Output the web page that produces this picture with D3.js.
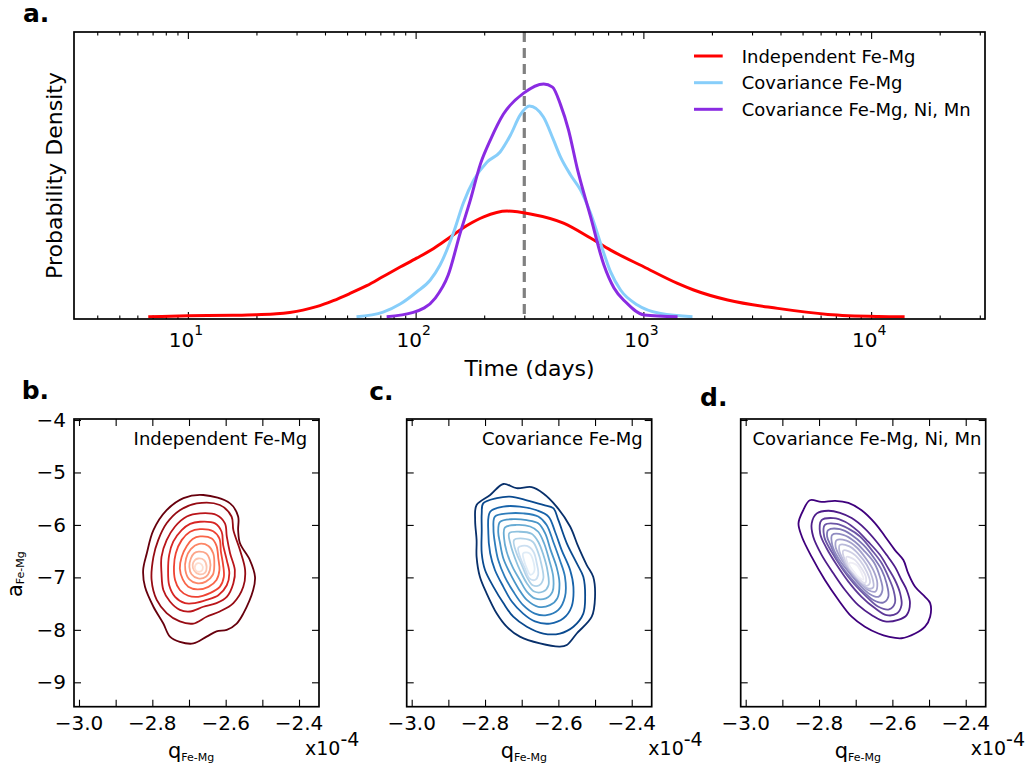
<!DOCTYPE html>
<html><head><meta charset="utf-8">
<script src="https://cdn.jsdelivr.net/npm/d3@7"></script>
<style>body{margin:0;background:#fff} text{font-family:"DejaVu Sans",sans-serif;fill:#000}</style>
</head><body><svg id="c" width="1030" height="772"></svg>
<script>
// ---------- DATA ----------
const seriesNames = ["Independent Fe-Mg", "Covariance Fe-Mg", "Covariance Fe-Mg, Ni, Mn"];
const seriesColors = ["#ff0000", "#87cefa", "#8a2be2"];

const indepDays = [6.7, 10, 15.8, 20, 24.5, 28, 32, 36.7, 43.5, 51.5, 61, 72, 85.5, 101, 120, 137, 168, 199, 252, 319, 446, 586, 718, 1003, 1413, 1663, 2344, 3890, 6457, 10715, 14030];
const indepDensity = [0.008, 0.011, 0.013, 0.015, 0.018, 0.023, 0.031, 0.043, 0.064, 0.089, 0.116, 0.148, 0.181, 0.212, 0.246, 0.277, 0.326, 0.356, 0.376, 0.366, 0.334, 0.282, 0.240, 0.182, 0.124, 0.101, 0.066, 0.037, 0.016, 0.009, 0.008];

const covDays = [55, 72, 85.5, 101, 116, 128, 147, 162, 180, 206, 235, 261, 288, 316, 364, 403, 433, 479, 530, 586, 668, 718, 794, 942, 1191, 1643];
const covDensity = [0.008, 0.024, 0.052, 0.094, 0.136, 0.188, 0.303, 0.404, 0.484, 0.547, 0.582, 0.641, 0.711, 0.742, 0.704, 0.624, 0.564, 0.502, 0.449, 0.369, 0.233, 0.164, 0.101, 0.049, 0.019, 0.008];

const covAllDays = [74.6, 97.7, 122, 139, 157, 174, 192, 213, 243, 298, 365, 399, 433, 469, 512, 587, 671, 743, 836, 1007, 1413];
const covAllDensity = [0.008, 0.023, 0.073, 0.153, 0.300, 0.415, 0.537, 0.624, 0.714, 0.787, 0.819, 0.808, 0.746, 0.659, 0.526, 0.355, 0.188, 0.108, 0.059, 0.014, 0.008];

const referenceDays = 300;
const timeMajorTicks = [10, 100, 1000, 10000];
const timeTickExponents = ["1", "2", "3", "4"];

const qTicks = [-3.0, -2.9, -2.8, -2.7, -2.6, -2.5, -2.4];
const qTickLabels = ["\u22123.0", "", "\u22122.8", "", "\u22122.6", "", "\u22122.4"];
const aTicks = [-4, -5, -6, -7, -8, -9];
const aTickLabels = ["\u22124", "\u22125", "\u22126", "\u22127", "\u22128", "\u22129"];

// contour rings (outer -> inner), points are [q (x1e-4), a]
const ringsIndependent = [
 [[-2.661,-5.43],[-2.588,-5.59],[-2.566,-5.84],[-2.566,-6.10],[-2.561,-6.35],[-2.534,-6.67],[-2.520,-6.99],[-2.525,-7.24],[-2.552,-7.69],[-2.570,-7.88],[-2.597,-8.00],[-2.625,-8.03],[-2.652,-8.13],[-2.688,-8.26],[-2.725,-8.23],[-2.752,-8.13],[-2.770,-7.88],[-2.797,-7.56],[-2.820,-7.18],[-2.825,-6.86],[-2.815,-6.54],[-2.797,-6.10],[-2.761,-5.72],[-2.715,-5.49]],
 [[-2.679,-5.59],[-2.616,-5.62],[-2.584,-5.84],[-2.579,-6.10],[-2.561,-6.48],[-2.547,-6.86],[-2.552,-7.18],[-2.579,-7.49],[-2.616,-7.65],[-2.652,-7.75],[-2.688,-7.88],[-2.725,-7.84],[-2.761,-7.68],[-2.788,-7.43],[-2.802,-7.05],[-2.797,-6.61],[-2.784,-6.29],[-2.761,-5.97],[-2.725,-5.72]],
 [[-2.670,-5.78],[-2.625,-5.81],[-2.602,-5.97],[-2.597,-6.22],[-2.588,-6.54],[-2.575,-6.86],[-2.579,-7.11],[-2.597,-7.37],[-2.625,-7.49],[-2.661,-7.56],[-2.697,-7.65],[-2.725,-7.62],[-2.752,-7.46],[-2.770,-7.24],[-2.775,-6.92],[-2.775,-6.61],[-2.761,-6.29],[-2.738,-6.03],[-2.706,-5.84]],
 [[-2.670,-5.94],[-2.629,-5.97],[-2.611,-6.13],[-2.607,-6.38],[-2.597,-6.67],[-2.590,-6.92],[-2.597,-7.15],[-2.620,-7.34],[-2.652,-7.43],[-2.684,-7.49],[-2.711,-7.49],[-2.738,-7.37],[-2.754,-7.15],[-2.757,-6.86],[-2.754,-6.57],[-2.743,-6.32],[-2.720,-6.10],[-2.697,-5.98]],
 [[-2.670,-6.08],[-2.634,-6.12],[-2.617,-6.26],[-2.613,-6.51],[-2.607,-6.76],[-2.605,-6.99],[-2.616,-7.18],[-2.643,-7.30],[-2.675,-7.37],[-2.702,-7.35],[-2.725,-7.24],[-2.738,-7.05],[-2.741,-6.80],[-2.736,-6.54],[-2.720,-6.29],[-2.697,-6.13]],
 [[-2.670,-6.22],[-2.638,-6.26],[-2.625,-6.40],[-2.620,-6.64],[-2.617,-6.86],[-2.625,-7.05],[-2.647,-7.18],[-2.677,-7.23],[-2.702,-7.18],[-2.717,-7.04],[-2.725,-6.83],[-2.720,-6.61],[-2.706,-6.40],[-2.690,-6.27]],
 [[-2.672,-6.36],[-2.647,-6.40],[-2.634,-6.54],[-2.631,-6.76],[-2.635,-6.95],[-2.654,-7.08],[-2.679,-7.11],[-2.699,-7.04],[-2.710,-6.86],[-2.708,-6.64],[-2.695,-6.46]],
 [[-2.674,-6.51],[-2.654,-6.54],[-2.643,-6.68],[-2.643,-6.86],[-2.654,-6.99],[-2.675,-7.02],[-2.693,-6.94],[-2.699,-6.80],[-2.695,-6.64],[-2.686,-6.54]],
 [[-2.675,-6.64],[-2.659,-6.67],[-2.652,-6.80],[-2.656,-6.91],[-2.673,-6.94],[-2.686,-6.87],[-2.690,-6.76],[-2.684,-6.67]],
 [[-2.676,-6.73],[-2.665,-6.76],[-2.663,-6.85],[-2.670,-6.89],[-2.681,-6.87],[-2.684,-6.80]]
];

const ringsCovariance = [
 [[-2.823,-5.62],[-2.786,-5.43],[-2.750,-5.22],[-2.714,-5.30],[-2.673,-5.28],[-2.641,-5.40],[-2.605,-5.65],[-2.568,-6.03],[-2.546,-6.41],[-2.523,-6.76],[-2.505,-6.99],[-2.500,-7.37],[-2.509,-7.75],[-2.550,-8.07],[-2.577,-8.29],[-2.596,-8.32],[-2.650,-8.26],[-2.705,-8.13],[-2.741,-7.94],[-2.768,-7.69],[-2.796,-7.30],[-2.814,-6.99],[-2.823,-6.61],[-2.823,-6.29],[-2.827,-5.91]],
 [[-2.805,-5.59],[-2.768,-5.49],[-2.732,-5.46],[-2.686,-5.53],[-2.641,-5.62],[-2.614,-5.68],[-2.600,-5.91],[-2.577,-6.35],[-2.550,-6.73],[-2.532,-6.99],[-2.527,-7.37],[-2.532,-7.69],[-2.559,-7.94],[-2.596,-8.07],[-2.641,-8.07],[-2.686,-7.94],[-2.723,-7.75],[-2.750,-7.49],[-2.777,-7.18],[-2.800,-6.86],[-2.809,-6.54],[-2.809,-6.10],[-2.809,-5.78]],
 [[-2.786,-5.75],[-2.750,-5.65],[-2.705,-5.65],[-2.659,-5.72],[-2.627,-5.84],[-2.609,-6.13],[-2.591,-6.48],[-2.568,-6.86],[-2.559,-7.18],[-2.564,-7.56],[-2.586,-7.78],[-2.623,-7.88],[-2.664,-7.84],[-2.696,-7.69],[-2.727,-7.46],[-2.750,-7.18],[-2.773,-6.86],[-2.786,-6.54],[-2.791,-6.16]],
 [[-2.773,-5.84],[-2.736,-5.78],[-2.696,-5.78],[-2.655,-5.84],[-2.632,-6.00],[-2.614,-6.32],[-2.596,-6.67],[-2.582,-6.99],[-2.582,-7.37],[-2.600,-7.62],[-2.632,-7.72],[-2.664,-7.69],[-2.696,-7.53],[-2.723,-7.27],[-2.746,-6.99],[-2.764,-6.67],[-2.773,-6.35],[-2.777,-6.07]],
 [[-2.759,-5.94],[-2.723,-5.89],[-2.686,-5.91],[-2.655,-5.97],[-2.636,-6.16],[-2.621,-6.48],[-2.605,-6.80],[-2.597,-7.11],[-2.603,-7.40],[-2.623,-7.53],[-2.655,-7.56],[-2.686,-7.43],[-2.709,-7.21],[-2.732,-6.92],[-2.750,-6.64],[-2.759,-6.35],[-2.764,-6.13]],
 [[-2.746,-6.05],[-2.714,-6.00],[-2.677,-6.03],[-2.655,-6.13],[-2.639,-6.35],[-2.625,-6.67],[-2.614,-6.99],[-2.616,-7.27],[-2.634,-7.40],[-2.664,-7.40],[-2.686,-7.27],[-2.705,-7.05],[-2.725,-6.80],[-2.741,-6.51],[-2.748,-6.26]],
 [[-2.734,-6.16],[-2.705,-6.13],[-2.673,-6.17],[-2.655,-6.32],[-2.641,-6.57],[-2.630,-6.86],[-2.627,-7.15],[-2.641,-7.27],[-2.666,-7.27],[-2.686,-7.11],[-2.703,-6.89],[-2.718,-6.64],[-2.730,-6.38]],
 [[-2.721,-6.29],[-2.696,-6.26],[-2.670,-6.32],[-2.656,-6.51],[-2.646,-6.76],[-2.641,-7.02],[-2.652,-7.15],[-2.670,-7.15],[-2.686,-6.99],[-2.700,-6.76],[-2.714,-6.54]],
 [[-2.709,-6.43],[-2.686,-6.40],[-2.668,-6.51],[-2.659,-6.73],[-2.655,-6.95],[-2.664,-7.05],[-2.679,-7.02],[-2.691,-6.83],[-2.703,-6.64]],
 [[-2.696,-6.54],[-2.679,-6.54],[-2.668,-6.70],[-2.666,-6.89],[-2.676,-6.95],[-2.686,-6.83],[-2.694,-6.67]]
];

const ringsCovarianceAll = [
 [[-2.825,-5.53],[-2.793,-5.56],[-2.756,-5.54],[-2.720,-5.58],[-2.684,-5.72],[-2.647,-5.97],[-2.620,-6.22],[-2.593,-6.48],[-2.570,-6.67],[-2.557,-6.92],[-2.538,-7.18],[-2.511,-7.37],[-2.497,-7.49],[-2.497,-7.75],[-2.511,-7.94],[-2.538,-8.07],[-2.575,-8.16],[-2.611,-8.13],[-2.638,-8.07],[-2.675,-7.94],[-2.711,-7.75],[-2.747,-7.43],[-2.784,-7.05],[-2.820,-6.61],[-2.847,-6.22],[-2.856,-5.97],[-2.843,-5.72]],
 [[-2.806,-5.78],[-2.775,-5.73],[-2.743,-5.77],[-2.711,-5.87],[-2.675,-6.07],[-2.643,-6.32],[-2.616,-6.57],[-2.593,-6.80],[-2.575,-7.05],[-2.561,-7.24],[-2.552,-7.49],[-2.561,-7.72],[-2.584,-7.81],[-2.620,-7.84],[-2.656,-7.72],[-2.693,-7.53],[-2.729,-7.24],[-2.761,-6.92],[-2.793,-6.57],[-2.816,-6.22],[-2.820,-5.97]],
 [[-2.793,-5.91],[-2.761,-5.87],[-2.729,-5.94],[-2.697,-6.10],[-2.666,-6.32],[-2.634,-6.57],[-2.611,-6.83],[-2.593,-7.05],[-2.579,-7.30],[-2.575,-7.53],[-2.588,-7.69],[-2.616,-7.72],[-2.647,-7.59],[-2.684,-7.37],[-2.720,-7.08],[-2.752,-6.76],[-2.779,-6.45],[-2.797,-6.16]],
 [[-2.784,-6.00],[-2.752,-5.98],[-2.720,-6.07],[-2.688,-6.22],[-2.656,-6.48],[-2.629,-6.73],[-2.611,-6.99],[-2.597,-7.24],[-2.593,-7.49],[-2.609,-7.61],[-2.638,-7.56],[-2.670,-7.37],[-2.706,-7.11],[-2.737,-6.83],[-2.766,-6.51],[-2.786,-6.22]],
 [[-2.775,-6.10],[-2.743,-6.08],[-2.711,-6.19],[-2.679,-6.38],[-2.652,-6.61],[-2.629,-6.86],[-2.616,-7.11],[-2.611,-7.37],[-2.625,-7.48],[-2.652,-7.43],[-2.684,-7.24],[-2.716,-6.99],[-2.747,-6.70],[-2.767,-6.41],[-2.778,-6.22]],
 [[-2.764,-6.19],[-2.734,-6.19],[-2.702,-6.32],[-2.675,-6.51],[-2.649,-6.73],[-2.634,-6.99],[-2.627,-7.24],[-2.638,-7.37],[-2.661,-7.32],[-2.688,-7.15],[-2.720,-6.89],[-2.747,-6.64],[-2.764,-6.38]],
 [[-2.752,-6.29],[-2.725,-6.30],[-2.697,-6.43],[-2.672,-6.64],[-2.652,-6.86],[-2.641,-7.11],[-2.646,-7.27],[-2.666,-7.24],[-2.691,-7.08],[-2.718,-6.86],[-2.743,-6.61],[-2.755,-6.41]],
 [[-2.743,-6.38],[-2.717,-6.41],[-2.693,-6.55],[-2.670,-6.76],[-2.655,-7.00],[-2.652,-7.19],[-2.667,-7.21],[-2.691,-7.06],[-2.716,-6.86],[-2.736,-6.64],[-2.745,-6.48]],
 [[-2.734,-6.49],[-2.711,-6.53],[-2.688,-6.68],[-2.670,-6.89],[-2.661,-7.10],[-2.670,-7.16],[-2.688,-7.06],[-2.711,-6.88],[-2.729,-6.68]],
 [[-2.725,-6.61],[-2.704,-6.66],[-2.686,-6.81],[-2.672,-7.00],[-2.675,-7.11],[-2.688,-7.05],[-2.706,-6.89],[-2.722,-6.73]],
 [[-2.716,-6.72],[-2.697,-6.77],[-2.684,-6.92],[-2.679,-7.04],[-2.691,-7.00],[-2.706,-6.89],[-2.716,-6.80]]
];

// ---------- DRAW ----------
const svg = d3.select("#c");
const SPINE = 1.7, TICKW = 1.1;

// ===== Panel a =====
const A = {l: 74, r: 985, t: 32, b: 319};
const x = d3.scaleLog().domain([Math.pow(10, 0.5), Math.pow(10, 4.5)]).range([A.l, A.r]);
const y = d3.scaleLinear().domain([0, 1]).range([A.b, A.t]);

const minorTicks = x.ticks().filter(v => !timeMajorTicks.includes(v));

function tickAxis(gen, sel, vals, size) {
  sel.call(gen.tickValues(vals).tickSize(size).tickFormat(() => ""));
  sel.select(".domain").remove();
  sel.selectAll(".tick line").attr("stroke", "#000").attr("stroke-width", TICKW);
}
tickAxis(d3.axisBottom(x), svg.append("g").attr("transform", `translate(0,${A.b})`), timeMajorTicks, -7);
tickAxis(d3.axisBottom(x), svg.append("g").attr("transform", `translate(0,${A.b})`), minorTicks, -3.5);
tickAxis(d3.axisTop(x), svg.append("g").attr("transform", `translate(0,${A.t})`), timeMajorTicks, -7);
tickAxis(d3.axisTop(x), svg.append("g").attr("transform", `translate(0,${A.t})`), minorTicks, -3.5);

timeMajorTicks.forEach((v, i) => {
  const t = svg.append("text").attr("x", x(v) - 2).attr("y", 346.7)
    .attr("text-anchor", "middle").style("font-size", "20px");
  t.append("tspan").text("10");
  t.append("tspan").attr("dy", -11.5).style("font-size", "14px").text(timeTickExponents[i]);
});

const series = [
  {days: indepDays, dens: indepDensity},
  {days: covDays, dens: covDensity},
  {days: covAllDays, dens: covAllDensity}
];
const lineGen = d3.line().x(d => x(d[0])).y(d => y(d[1])).curve(d3.curveMonotoneX);

svg.append("line").attr("x1", x(referenceDays)).attr("x2", x(referenceDays))
  .attr("y1", A.t).attr("y2", A.b).attr("stroke", "#808080").attr("stroke-width", 3.2)
  .attr("stroke-dasharray", "10,6");

series.forEach((s, i) => {
  svg.append("path").datum(s.days.map((d, j) => [d, s.dens[j]]))
    .attr("d", lineGen).attr("fill", "none").attr("stroke", seriesColors[i])
    .attr("stroke-width", 3).attr("stroke-linejoin", "round");
});

svg.append("rect").attr("x", A.l).attr("y", A.t).attr("width", A.r - A.l).attr("height", A.b - A.t)
  .attr("fill", "none").attr("stroke", "#000").attr("stroke-width", SPINE);

// legend
const legY = [56, 82.7, 109.3];
seriesNames.forEach((n, i) => {
  svg.append("line").attr("x1", 694).attr("x2", 722.7).attr("y1", legY[i]).attr("y2", legY[i])
    .attr("stroke", seriesColors[i]).attr("stroke-width", 3);
  svg.append("text").attr("x", 741.7).attr("y", legY[i] + 6.5).style("font-size", "18px").text(n);
});

svg.append("text").attr("x", (A.l + A.r) / 2).attr("y", 376).attr("text-anchor", "middle")
  .style("font-size", "22px").text("Time (days)");
svg.append("text").attr("transform", `translate(61.5,${(A.t + A.b) / 2}) rotate(-90)`)
  .attr("text-anchor", "middle").style("font-size", "22px").text("Probability Density");

function letter(s, lx, ly) {
  svg.append("text").attr("x", lx).attr("y", ly).style("font-size", "25px").style("font-weight", "bold").text(s);
}
letter("a.", 23, 22);

// ===== Panels b, c, d =====
const panels = [
  {letter: "b.", lx: 21.7, ly: 399, left: 74, rings: ringsIndependent, interp: d3.interpolateReds, title: seriesNames[0], showY: true, expDx: -14, titleDx: 11.7},
  {letter: "c.", lx: 369.3, ly: 400, left: 406.7, rings: ringsCovariance, interp: d3.interpolateBlues, title: seriesNames[1], showY: false, expDx: -3.4, titleDx: 9},
  {letter: "d.", lx: 700, ly: 406, left: 740.7, rings: ringsCovarianceAll, interp: d3.interpolatePurples, title: seriesNames[2], showY: false, expDx: -15, titleDx: 4.3}
];
const PW = 245, PT = 419, PB = 706.7;

panels.forEach(p => {
  const xs = d3.scaleLinear().domain([-3.0136, -2.3455]).range([p.left, p.left + PW]);
  const ys = d3.scaleLinear().domain([-9.465, -3.981]).range([PB, PT]);
  const g = svg.append("g");

  const n = p.rings.length;
  const cl = d3.line().x(d => xs(d[0])).y(d => ys(d[1])).curve(d3.curveCatmullRomClosed.alpha(0.5));
  p.rings.forEach((r, i) => {
    g.append("path").datum(r).attr("d", cl).attr("fill", "none")
      .attr("stroke", p.interp(1 - i / (n - 1) * 0.88)).attr("stroke-width", 1.8);
  });

  tickAxis(d3.axisBottom(xs), g.append("g").attr("transform", `translate(0,${PB})`), qTicks, -7);
  tickAxis(d3.axisTop(xs), g.append("g").attr("transform", `translate(0,${PT})`), qTicks, -7);
  tickAxis(d3.axisLeft(ys), g.append("g").attr("transform", `translate(${p.left},0)`), aTicks, -7);
  tickAxis(d3.axisRight(ys), g.append("g").attr("transform", `translate(${p.left + PW},0)`), aTicks, -7);

  g.append("rect").attr("x", p.left).attr("y", PT).attr("width", PW).attr("height", PB - PT)
    .attr("fill", "none").attr("stroke", "#000").attr("stroke-width", SPINE);

  qTicks.forEach((v, i) => {
    if (!qTickLabels[i]) return;
    g.append("text").attr("x", xs(v)).attr("y", 730).attr("text-anchor", "middle")
      .style("font-size", "20px").text(qTickLabels[i]);
  });
  if (p.showY) {
    aTicks.forEach((v, i) => {
      g.append("text").attr("x", p.left - 8).attr("y", ys(v) + 7).attr("text-anchor", "end")
        .style("font-size", "20px").text(aTickLabels[i]);
    });
    const yl = g.append("text").attr("transform", `translate(21.5,597) rotate(-90)`).style("font-size", "21px");
    yl.append("tspan").text("a");
    yl.append("tspan").attr("dy", 2).style("font-size", "11px").text("Fe-Mg");
  }
  const xl = g.append("text").attr("x", p.left + 94).attr("y", 758).style("font-size", "21px");
  xl.append("tspan").text("q");
  xl.append("tspan").attr("dy", 3).style("font-size", "11px").text("Fe-Mg");

  const ex = g.append("text").attr("x", p.left + PW + p.expDx).attr("y", 755).style("font-size", "19px");
  ex.append("tspan").text("x10");
  ex.append("tspan").attr("dy", -9).text("-4");

  g.append("text").attr("x", p.left + PW - p.titleDx).attr("y", 444.5)
    .attr("text-anchor", "end").style("font-size", "18px").text(p.title);

  letter(p.letter, p.lx, p.ly);
});
</script>
</body></html>
